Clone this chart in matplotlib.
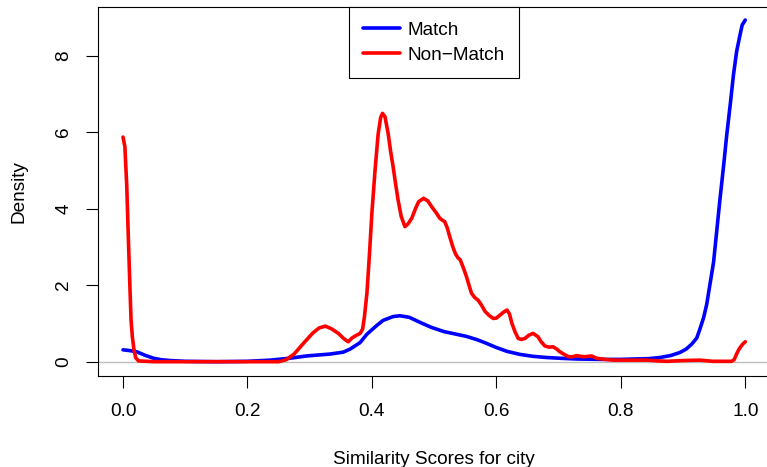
import matplotlib
matplotlib.use("Agg")
import matplotlib.pyplot as plt

# density curves
match_x = [0.0, 0.011, 0.022, 0.035, 0.049, 0.062, 0.076, 0.1, 0.15, 0.2, 0.236,
           0.268, 0.295, 0.333, 0.354, 0.365, 0.381, 0.392, 0.408, 0.418, 0.434,
           0.445, 0.46, 0.477, 0.495, 0.515, 0.535, 0.552, 0.57, 0.584, 0.6,
           0.617, 0.638, 0.659, 0.68, 0.702, 0.73, 0.767, 0.8, 0.82, 0.845,
           0.863, 0.88, 0.895, 0.905, 0.914, 0.922, 0.927, 0.933, 0.938, 0.943,
           0.949, 0.954, 0.959, 0.965, 0.97, 0.976, 0.981, 0.986, 0.991, 0.995,
           1.0]
match_y = [0.31, 0.29, 0.26, 0.17, 0.09, 0.05, 0.03, 0.01, 0.0, 0.01, 0.04,
           0.09, 0.15, 0.2, 0.25, 0.33, 0.5, 0.72, 0.95, 1.08, 1.18,
           1.2, 1.16, 1.03, 0.9, 0.79, 0.72, 0.66, 0.57, 0.48, 0.37,
           0.27, 0.19, 0.14, 0.11, 0.09, 0.07, 0.06, 0.06, 0.07, 0.08,
           0.11, 0.16, 0.24, 0.33, 0.46, 0.62, 0.85, 1.15, 1.5, 2.0,
           2.6, 3.4, 4.2, 5.1, 5.9, 6.75, 7.5, 8.1, 8.5, 8.8,
           8.93]

nonmatch_x = [0.0, 0.003, 0.006, 0.0085, 0.011, 0.0129, 0.015, 0.0177, 0.0205,
              0.025, 0.05, 0.1, 0.2, 0.25, 0.262, 0.275, 0.29, 0.305, 0.315,
              0.325, 0.335, 0.346, 0.355, 0.362, 0.368, 0.373, 0.381, 0.385,
              0.388, 0.392, 0.396, 0.4, 0.405, 0.41, 0.414, 0.417, 0.421, 0.426,
              0.43, 0.434, 0.438, 0.442, 0.447, 0.453, 0.458, 0.464, 0.47, 0.475,
              0.483, 0.49, 0.496, 0.503, 0.509, 0.513, 0.517, 0.521, 0.525,
              0.53, 0.534, 0.538, 0.542, 0.547, 0.552, 0.556, 0.56, 0.565,
              0.571, 0.576, 0.582, 0.589, 0.595, 0.6, 0.606, 0.612, 0.617,
              0.621, 0.625, 0.63, 0.635, 0.64, 0.646, 0.652, 0.659, 0.667,
              0.672, 0.678, 0.685, 0.691, 0.697, 0.702, 0.709, 0.716, 0.723,
              0.729, 0.735, 0.742, 0.753, 0.761, 0.775, 0.788, 0.81, 0.842,
              0.86, 0.874, 0.9, 0.927, 0.948, 0.965, 0.978, 0.982, 0.986,
              0.99, 0.994, 0.997, 1.0]
nonmatch_y = [5.87, 5.62, 4.6, 3.27, 2.0, 1.09, 0.65, 0.3, 0.1,
              0.02, 0.0, 0.0, 0.0, 0.0, 0.05, 0.2, 0.48, 0.75, 0.88,
              0.93, 0.86, 0.74, 0.6, 0.52, 0.62, 0.67, 0.74, 0.85,
              1.18, 1.8, 2.8, 3.9, 5.0, 5.95, 6.38, 6.49, 6.4, 5.97,
              5.5, 5.1, 4.65, 4.23, 3.8, 3.53, 3.6, 3.75, 4.0, 4.18,
              4.27, 4.2, 4.05, 3.9, 3.75, 3.7, 3.66, 3.5, 3.27,
              3.0, 2.83, 2.72, 2.66, 2.45, 2.22, 2.0, 1.79, 1.68,
              1.6, 1.48, 1.31, 1.2, 1.13, 1.14, 1.22, 1.3, 1.35,
              1.25, 1.0, 0.78, 0.61, 0.58, 0.61, 0.69, 0.74, 0.65,
              0.52, 0.41, 0.38, 0.39, 0.33, 0.26, 0.19, 0.13, 0.13,
              0.16, 0.14, 0.13, 0.15, 0.09, 0.06, 0.04, 0.04, 0.04,
              0.02, 0.01, 0.03, 0.04, 0.01, 0.01, 0.01, 0.05, 0.2,
              0.33, 0.42, 0.48, 0.52]

xticks = [0.0, 0.2, 0.4, 0.6, 0.8, 1.0]
yticks = [0, 2, 4, 6, 8]

plt.rcParams['font.family'] = ['Liberation Sans', 'DejaVu Sans']
FS = 13.7

fig = plt.figure(figsize=(7.67, 4.67), dpi=100)
W, H = 767, 467
ax = fig.add_axes([98 / W, (H - 376) / H, (770 - 98) / W, (376 - 7) / H])

ax.axhline(0, color='#bebebe', lw=1, zorder=1)
ax.plot(match_x, match_y, color='#0000ff', lw=2.6, label='Match', zorder=3,
        solid_capstyle='round', solid_joinstyle='round')
ax.plot(nonmatch_x, nonmatch_y, color='#ff0000', lw=2.6, label='Non\u2212Match', zorder=3,
        solid_capstyle='round', solid_joinstyle='round')

ax.set_xlim(-0.0402, 1.0397)
ax.set_ylim(-0.374, 9.27)
ax.set_xticks(xticks)
ax.set_xticklabels(['0.0', '0.2', '0.4', '0.6', '0.8', '1.0'])
ax.set_yticks(yticks)
ax.set_yticklabels([str(v) for v in yticks], rotation=90, va='center')
ax.tick_params(direction='out', length=8.6, width=0.8, labelsize=FS)
ax.tick_params(axis='x', pad=11)
ax.tick_params(axis='y', pad=10)
for s in ax.spines.values():
    s.set_linewidth(0.8)

ax.set_xlabel('Similarity Scores for city', fontsize=FS, labelpad=22)
ax.set_ylabel('Density', fontsize=FS, labelpad=20)

leg = ax.legend(loc='upper center', bbox_to_anchor=(0.5, 1.0), borderaxespad=0,
                fontsize=FS, fancybox=False, framealpha=1, edgecolor='black',
                handlelength=1.9, handletextpad=0.4, borderpad=0.75,
                labelspacing=0.42)
leg.get_frame().set_linewidth(0.8)

fig.savefig('out.png', dpi=100)
